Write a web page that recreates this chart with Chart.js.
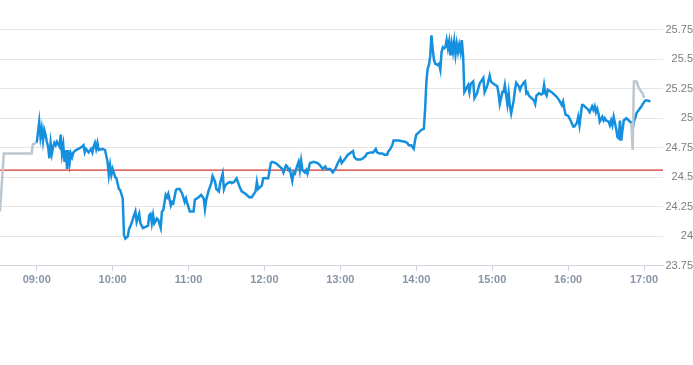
<!DOCTYPE html>
<html>
<head>
<meta charset="utf-8">
<script src="https://cdn.jsdelivr.net/npm/chart.js@4.4.0/dist/chart.umd.min.js"></script>
<style>
  body { margin: 0; background: #fff; }
  #wrap { width: 693px; height: 290px; position: relative; }
</style>
</head>
<body>
<div id="wrap"><canvas id="chart"></canvas></div>
<script>
// session prices, one line per hour
const blueTimes = [
  "09:00","09:02","09:03","09:04","09:05","09:06","09:07","09:08","09:09","09:10","09:11","09:12","09:13","09:14","09:15","09:16","09:18","09:19","09:20","09:21","09:22","09:23","09:24","09:25","09:26","09:27","09:28","09:29","09:31","09:33","09:36","09:37","09:38","09:39","09:41","09:43","09:44","09:45","09:46","09:47","09:48","09:49","09:52","09:54","09:56","09:57","09:58","09:59",
  "10:00","10:02","10:03","10:05","10:06","10:08","10:09","10:10","10:12","10:13","10:15","10:17","10:18","10:19","10:21","10:22","10:24","10:26","10:28","10:29","10:30","10:31","10:32","10:33","10:35","10:36","10:38","10:39","10:40","10:42","10:43","10:44","10:46","10:47","10:48","10:50","10:51","10:53","10:55","10:57","10:58","10:59",
  "11:01","11:04","11:05","11:08","11:10","11:12","11:13","11:14","11:16","11:18","11:19","11:21","11:22","11:24","11:25","11:27","11:28","11:29","11:31","11:33","11:34","11:36","11:38","11:40","11:42","11:45","11:48","11:50","11:53","11:54","11:55","11:58","11:59",
  "12:03","12:05","12:06","12:09","12:11","12:14","12:15","12:17","12:18","12:19","12:20","12:22","12:23","12:24","12:26","12:27","12:28","12:29","12:30","12:32","12:33","12:34","12:36","12:39","12:42","12:44","12:46","12:48","12:49","12:52","12:54","12:56","12:58",
  "13:00","13:01","13:04","13:06","13:10","13:11","13:13","13:16","13:18","13:20","13:21","13:24","13:26","13:28","13:29","13:31","13:33","13:35","13:37","13:38","13:39","13:41","13:42","13:46","13:51","13:53","13:54","13:56","13:58","13:59",
  "14:00","14:02","14:04","14:06","14:07","14:08","14:09","14:10","14:11","14:12","14:13","14:14","14:15","14:17","14:18","14:19","14:20","14:21","14:22","14:23","14:24","14:25","14:26","14:27","14:28","14:29","14:30","14:31","14:32","14:33","14:34","14:35","14:36","14:37","14:38","14:39","14:41","14:42","14:43","14:45","14:46","14:48","14:50","14:53","14:54","14:56","14:58","14:59",
  "15:01","15:04","15:05","15:06","15:08","15:09","15:10","15:12","15:13","15:14","15:15","15:17","15:18","15:19","15:21","15:22","15:23","15:25","15:26","15:27","15:28","15:29","15:31","15:33","15:34","15:35","15:37","15:39","15:40","15:41","15:42","15:43","15:44","15:47","15:48","15:51","15:53","15:55","15:56","15:57","15:58",
  "16:00","16:02","16:04","16:05","16:07","16:08","16:09","16:11","16:12","16:13","16:15","16:16","16:17","16:19","16:20","16:21","16:22","16:23","16:24","16:25","16:27","16:28","16:29","16:30","16:32","16:33","16:34","16:35","16:36","16:38","16:39","16:40","16:41","16:42","16:43","16:44","16:46","16:48","16:50","16:51","16:52","16:53","16:54","16:56","16:58","16:59",
  "17:01","17:03","17:05"
];
const bluePrices = [
  24.79,24.97,24.84,24.91,24.81,24.90,24.86,24.80,24.76,24.66,24.79,24.70,24.76,24.79,24.77,24.80,24.76,24.86,24.70,24.77,24.63,24.73,24.57,24.73,24.62,24.70,24.67,24.71,24.73,24.74,24.76,24.77,24.71,24.74,24.71,24.74,24.71,24.76,24.79,24.74,24.79,24.73,24.74,24.73,24.63,24.52,24.60,24.52,
  24.57,24.50,24.49,24.40,24.39,24.32,24.01,23.98,24.00,24.06,24.11,24.18,24.21,24.12,24.19,24.11,24.07,24.08,24.09,24.18,24.19,24.11,24.18,24.11,24.15,24.14,24.07,24.21,24.22,24.35,24.33,24.36,24.26,24.29,24.28,24.39,24.40,24.40,24.36,24.29,24.32,24.28,
  24.21,24.21,24.31,24.33,24.35,24.32,24.23,24.31,24.39,24.45,24.51,24.46,24.40,24.38,24.45,24.53,24.40,24.43,24.45,24.46,24.45,24.46,24.49,24.43,24.38,24.36,24.33,24.33,24.38,24.46,24.40,24.43,24.49,
  24.49,24.62,24.63,24.62,24.60,24.57,24.54,24.60,24.59,24.56,24.57,24.47,24.54,24.53,24.60,24.63,24.56,24.64,24.56,24.54,24.56,24.53,24.62,24.63,24.62,24.60,24.57,24.59,24.57,24.57,24.54,24.57,24.62,
  24.66,24.62,24.66,24.69,24.72,24.67,24.65,24.65,24.66,24.68,24.70,24.71,24.71,24.74,24.71,24.70,24.70,24.69,24.69,24.72,24.73,24.77,24.81,24.81,24.80,24.79,24.77,24.77,24.74,24.81,
  24.86,24.88,24.90,24.91,25.08,25.31,25.42,25.45,25.52,25.70,25.58,25.49,25.46,25.45,25.46,25.41,25.56,25.60,25.59,25.60,25.66,25.59,25.65,25.53,25.63,25.56,25.65,25.54,25.63,25.56,25.62,25.56,25.66,25.53,25.22,25.24,25.28,25.22,25.29,25.31,25.17,25.21,25.29,25.34,25.22,25.27,25.36,25.31,
  25.29,25.27,25.21,25.12,25.22,25.22,25.28,25.12,25.21,25.10,25.04,25.15,25.24,25.30,25.27,25.24,25.27,25.30,25.31,25.21,25.22,25.19,25.17,25.15,25.12,25.19,25.21,25.20,25.21,25.28,25.21,25.19,25.24,25.22,25.21,25.18,25.15,25.11,25.14,25.08,25.03,
  25.02,24.98,24.93,24.93,24.96,25.01,24.94,25.11,25.11,25.10,25.08,25.07,25.05,25.10,25.07,25.10,25.05,25.08,25.04,24.97,25.01,24.98,25.00,24.98,24.97,24.94,24.98,24.94,25.01,24.91,24.84,24.83,24.98,24.81,24.90,24.98,25.00,24.98,24.96,24.91,24.97,25.00,25.04,25.07,25.10,25.12,
  25.15,25.15,25.14
];

// extended hours (grey), null breaks the line
const greyTimes  = ["08:31","08:34","08:56","08:57","09:00","12:00","16:50","16:51","16:52","16:54","16:55","16:56","16:57","16:58","16:59","17:00"];
const greyPrices = [24.21, 24.70, 24.70, 24.78, 24.79, null, 24.96, 24.73, 25.31, 25.31, 25.28, 25.25, 25.24, 25.22, 25.21, 25.17];

const refPrice = 24.56;
const xRange = ["08:31", "17:15"];
const yRange = [23.75, 25.91];
const yTicks = [23.75, 24, 24.25, 24.5, 24.75, 25, 25.25, 25.5, 25.75];

function toMin(t) {
  const p = t.split(":");
  return parseInt(p[0], 10) * 60 + parseInt(p[1], 10);
}
function fmt(m) {
  const h = Math.floor(m / 60), mm = Math.round(m % 60);
  return String(h).padStart(2, "0") + ":" + String(mm).padStart(2, "0");
}

const xMin = toMin(xRange[0]), xMax = toMin(xRange[1]);

const ctx = document.getElementById("chart").getContext("2d");
new Chart(ctx, {
  type: "line",
  data: {
    datasets: [
      {
        label: "extended",
        data: greyTimes.map((t, i) => ({ x: toMin(t), y: greyPrices[i] })),
        borderColor: "#bcc7cf",
        borderWidth: 2.5,
        pointRadius: 0,
        tension: 0,
        spanGaps: false
      },
      {
        label: "price",
        data: blueTimes.map((t, i) => ({ x: toMin(t), y: bluePrices[i] })),
        borderColor: "#1590de",
        borderWidth: 2.5,
        pointRadius: 0,
        tension: 0
      },
      {
        label: "reference",
        data: [{ x: xMin, y: refPrice }, { x: xMax, y: refPrice }],
        borderColor: "#d8322c",
        borderWidth: 1.2,
        pointRadius: 0
      }
    ]
  },
  options: {
    responsive: true,
    maintainAspectRatio: false,
    animation: false,
    layout: { padding: 0 },
    plugins: { legend: { display: false }, tooltip: { enabled: false } },
    scales: {
      x: {
        type: "linear",
        min: xMin,
        max: xMax,
        grid: { drawOnChartArea: false, drawTicks: true, tickLength: 5, color: "#cfd5dd" },
        border: { color: "#cfd5dd" },
        ticks: {
          stepSize: 60,
          includeBounds: false,
          maxRotation: 0,
          padding: 3,
          color: "#8794a7",
          font: { family: "Liberation Sans, Arial, sans-serif", size: 11, weight: "bold" },
          callback: v => fmt(v)
        }
      },
      y: {
        position: "right",
        min: yRange[0],
        max: yRange[1],
        afterBuildTicks: s => { s.ticks = yTicks.map(v => ({ value: v })); },
        afterFit: s => { s.width = 30; },
        grid: { drawTicks: false, color: "#e5e5e5" },
        border: { display: false },
        ticks: {
          padding: 4,
          crossAlign: "far",
          color: "#7d7d7d",
          font: { family: "Liberation Sans, Arial, sans-serif", size: 11 },
          callback: v => String(v)
        }
      }
    }
  }
});
</script>
</body>
</html>
